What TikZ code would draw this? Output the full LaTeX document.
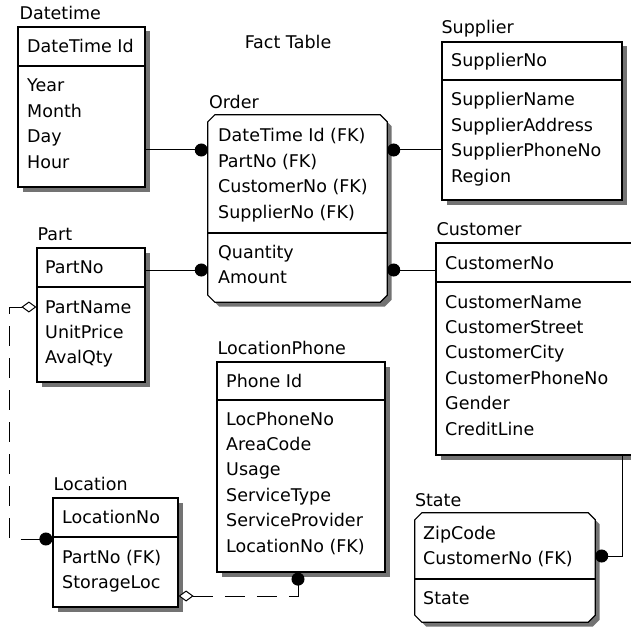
\documentclass[tikz,border=0pt]{standalone}
\usepackage{fontspec}
\setmainfont{DejaVu Sans}
\usetikzlibrary{arrows.meta,shadows}
\newcommand{\efont}{\fontsize{17.5}{21}\selectfont}
\tikzset{
  eshadow/.style={drop shadow={shadow xshift=4.5pt,shadow yshift=-4.5pt,fill=black!55,opacity=1}},
  ebox/.style={draw,line width=1.2pt,fill=white,inner sep=0pt,eshadow},
  ecut/.style={inner sep=0pt},
  ediv/.style={line width=1.2pt},
  etitle/.style={anchor=base west,inner sep=0pt,font=\efont},
  erow/.style={anchor=base west,inner sep=0pt,font=\efont},
  rel/.style={line width=1pt,-{Circle[length=13pt]}},
  relopt/.style={line width=1pt,dash pattern=on 20pt off 12pt,
    {Diamond[fill=white,length=15pt,width=11pt]}-{Circle[length=13pt]}},
}
\newcommand{\erows}[4]{% #1 = name prefix, #2 = x, #3 = first baseline, #4 = rows
  \foreach \R [count=\i] in {#4}
    \node[erow] (#1\i) at (#2,#3+\i*25.4-25.4) {\R};}
\newcommand{\ecutbox}[1]{% #1 = node name, outline with cut corners
  \draw[ediv,fill=white,eshadow]
    ([xshift=7pt]#1.north west) -- ([xshift=-7pt]#1.north east)
    -- ([yshift=-7pt]#1.north east) -- ([yshift=7pt]#1.south east)
    -- ([xshift=-7pt]#1.south east) -- ([xshift=7pt]#1.south west)
    -- ([yshift=7pt]#1.south west) -- ([yshift=-7pt]#1.north west) -- cycle;}

\begin{document}
\begin{tikzpicture}[x=1pt,y=-1pt]
\clip (0,0) rectangle (631,631);
\node[font=\efont] (fact) at (288,42) {Fact Table};
% ---- Datetime
\node[ebox,minimum width=127,minimum height=160] (dt) at (81.5,107) {};
\node[etitle] (dtname) at ([xshift=2pt,yshift=6.5pt]dt.north west) {Datetime};
\draw[ediv] (dt.west |- 0,66) -- (dt.east |- 0,66);
\erows{dtk}{27}{53}{DateTime Id}
\erows{dta}{27}{92}{Year,Month,Day,Hour}
% ---- Order (the fact table)
\node[ecut,minimum width=179,minimum height=187] (or) at (297.5,208.5) {};
\ecutbox{or}
\node[etitle] (orname) at ([xshift=1pt,yshift=6.5pt]or.north west) {Order};
\draw[ediv] (or.west |- 0,233) -- (or.east |- 0,233);
\erows{ork}{218}{142}{DateTime Id (FK),PartNo (FK),CustomerNo (FK),SupplierNo (FK)}
\erows{ora}{218}{258}{Quantity,Amount}
% ---- Supplier
\node[ebox,minimum width=180,minimum height=158] (su) at (532,121) {};
\node[etitle] (suname) at ([xshift=0pt,yshift=8pt]su.north west) {Supplier};
\draw[ediv] (su.west |- 0,80) -- (su.east |- 0,80);
\erows{suk}{451}{67}{SupplierNo}
\erows{sua}{451}{106}{SupplierName,SupplierAddress,SupplierPhoneNo,Region}
% ---- Part
\node[ebox,minimum width=108,minimum height=134] (pa) at (91,315) {};
\node[etitle] (paname) at ([xshift=1pt,yshift=6.5pt]pa.north west) {Part};
\draw[ediv] (pa.west |- 0,287) -- (pa.east |- 0,287);
\erows{pak}{45}{273}{PartNo}
\erows{paa}{45}{313}{PartName,UnitPrice,AvalQty}
% ---- Customer
\node[ebox,minimum width=209,minimum height=212] (cu) at (540.5,349) {};
\node[etitle] (cuname) at ([xshift=1pt,yshift=6.5pt]cu.north west) {Customer};
\draw[ediv] (cu.west |- 0,282) -- (cu.east |- 0,282);
\erows{cuk}{445}{269}{CustomerNo}
\erows{cua}{445}{308}{CustomerName,CustomerStreet,CustomerCity,CustomerPhoneNo,Gender,CreditLine}
% ---- LocationPhone
\node[ebox,minimum width=168,minimum height=210] (lp) at (301,467) {};
\node[etitle] (lpname) at ([xshift=1pt,yshift=6.5pt]lp.north west) {LocationPhone};
\draw[ediv] (lp.west |- 0,400) -- (lp.east |- 0,400);
\erows{lpk}{226}{387}{Phone Id}
\erows{lpa}{226}{425}{LocPhoneNo,AreaCode,Usage,ServiceType,ServiceProvider,LocationNo (FK)}
% ---- Location
\node[ebox,minimum width=125,minimum height=109] (lo) at (115.5,552.5) {};
\node[etitle] (loname) at ([xshift=1pt,yshift=6.5pt]lo.north west) {Location};
\draw[ediv] (lo.west |- 0,537) -- (lo.east |- 0,537);
\erows{lok}{62}{523}{LocationNo}
\erows{loa}{62}{563}{PartNo (FK),StorageLoc}
% ---- State
\node[ecut,minimum width=180,minimum height=109] (st) at (505,567.5) {};
\ecutbox{st}
\node[etitle] (stname) at ([xshift=0pt,yshift=6.5pt]st.north west) {State};
\draw[ediv] (st.west |- 0,579) -- (st.east |- 0,579);
\erows{stk}{423}{539}{ZipCode,CustomerNo (FK)}
\erows{sta}{423}{604}{State}
% ---- relationships
\draw[rel] (dt.east |- 0,150) -- (or.west |- 0,150);
\draw[rel] (pa.east |- 0,270) -- (or.west |- 0,270);
\draw[rel] (su.west |- 0,150) -- (or.east |- 0,150);
\draw[rel] (cu.west |- 0,270) -- (or.east |- 0,270);
\draw[rel] (cu.south -| 622,0) |- (st.east |- 0,556);
\draw[relopt] (pa.west |- 0,307) -- ++(-27,0) |- (lo.west |- 0,539);
\draw[relopt] (lo.east |- 0,596) -| ([xshift=-3pt]lp.south);
\end{tikzpicture}
\end{document}
